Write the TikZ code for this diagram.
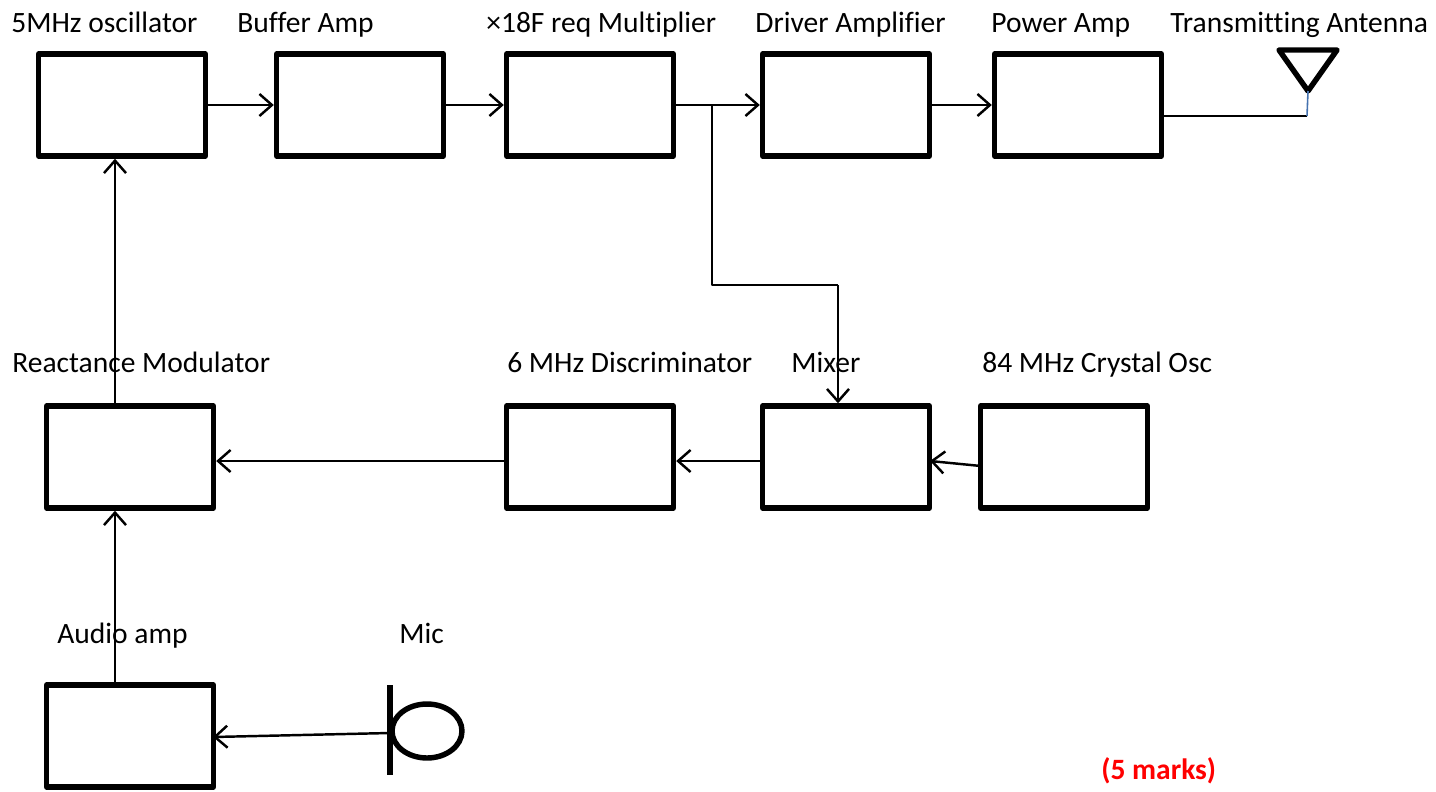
\documentclass[tikz,border=0pt]{standalone}
\usepackage{fontspec}
\setmainfont[Ligatures=CommonOff]{Carlito}
\usepackage{xcolor}
\usetikzlibrary{arrows.meta, shapes.geometric}
\definecolor{marksred}{RGB}{255, 0, 0}
\definecolor{feedblue}{RGB}{68, 114, 175}
\tikzset{
  blockbox/.style={draw, line width=3.1pt, line join=round, minimum width=3.34cm, minimum height=2.04cm, inner sep=0pt},
  blocklabel/.style={anchor=base west, inner sep=0pt, font=\fontsize{16.8pt}{20pt}\selectfont},
  sigline/.style={line width=1.4pt},
  sigarrow/.style={sigline, -{Straight Barb[length=0.25cm, width=0.44cm, line width=1.4pt]}},
}

\begin{document}
\begin{tikzpicture}[x=0.02cm, y=-0.02cm]
\useasboundingbox (0,0) rectangle (1436,791);
% top row
\node[blockbox] (osc) at (122,105) {};
\node[blockbox] (buffer) at (360,105) {};
\node[blockbox] (mult) at (590,105) {};
\node[blockbox] (driver) at (846,105) {};
\node[blockbox] (power) at (1078,105) {};
% middle row
\node[blockbox] (react) at (130,457) {};
\node[blockbox] (disc) at (590,457) {};
\node[blockbox] (mixer) at (846,457) {};
\node[blockbox] (xtal) at (1064,457) {};
% bottom row
\node[blockbox] (audio) at (130,736) {};
\node[draw, ellipse, line width=3.1pt, minimum width=1.4cm, minimum height=1.08cm, inner sep=0pt] (mic) at (427,731) {};

\node[blocklabel] (osclabel) at (11,32) {5MHz oscillator};
\node[blocklabel] (bufferlabel) at (237,32) {Buffer Amp};
\node[blocklabel] (multlabel) at (486,32) {×18F req Multiplier};
\node[blocklabel] (driverlabel) at (755,32) {Driver Amplifier};
\node[blocklabel] (powerlabel) at (991,32) {Power Amp};
\node[blocklabel] (antlabel) at (1170,32) {Transmitting Antenna};
\node[blocklabel] (reactlabel) at (12,372) {Reactance Modulator};
\node[blocklabel] (disclabel) at (507,372) {6 MHz Discriminator};
\node[blocklabel] (mixerlabel) at (791,372) {Mixer};
\node[blocklabel] (xtallabel) at (982,372) {84 MHz Crystal Osc};
\node[blocklabel] (audiolabel) at (57,643) {Audio amp};
\node[blocklabel] (miclabel) at (399,643) {Mic};
\node[blocklabel, text=marksred, font=\fontsize{16.8pt}{20pt}\selectfont\bfseries] (markslabel) at (1101,779) {(5 marks)};

\coordinate (feedx) at (115,300);
\coordinate (audiox) at (115,600);
\coordinate (midline) at (500,461);
\coordinate (tap) at (712,105);
\coordinate (tapdown) at (712,285);
\coordinate (mixerin) at (838,285);
\coordinate (micbartop) at (390,685);
\coordinate (micbarbot) at (390,775);
\coordinate (micout) at (390,733);
\coordinate (audioin) at (213,737);
\coordinate (xtalout) at (981,466);
\coordinate (mixerside) at (930,461);
\coordinate (antleft) at (1279,50);
\coordinate (antright) at (1337,50);
\coordinate (anttip) at (1308,91);
\coordinate (antfoot) at (1307,116);
\coordinate (powerout) at (1162,116);

\draw[sigarrow] (osc.east) -- (buffer.west);
\draw[sigarrow] (buffer.east) -- (mult.west);
\draw[sigarrow] (mult.east) -- (driver.west);
\draw[sigarrow] (driver.east) -- (power.west);
\draw[sigarrow] (disc.west |- midline) -- (react.east |- midline);
\draw[sigarrow] (mixer.west |- midline) -- (disc.east |- midline);
\draw[sigarrow] (xtalout) -- (mixerside);
\draw[sigarrow] (feedx |- react.north) -- (feedx |- osc.south);
\draw[sigarrow] (audiox |- audio.north) -- (audiox |- react.south);
\draw[sigarrow] (micout) -- (audioin);
\draw[sigline, line join=round] (tap) -- (tapdown) -- (mixerin);
\draw[sigarrow] (mixerin) -- (mixerin |- mixer.north);

% antenna and mic bar
\draw[line width=3.1pt, line join=round] (antleft) -- (antright) -- (anttip) -- cycle;
\draw[line width=0.9pt] (powerout) -- (antfoot);
\draw[feedblue, line width=0.9pt] (anttip) -- (antfoot);
\draw[line width=3.1pt] (micbartop) -- (micbarbot);
\end{tikzpicture}
\end{document}
